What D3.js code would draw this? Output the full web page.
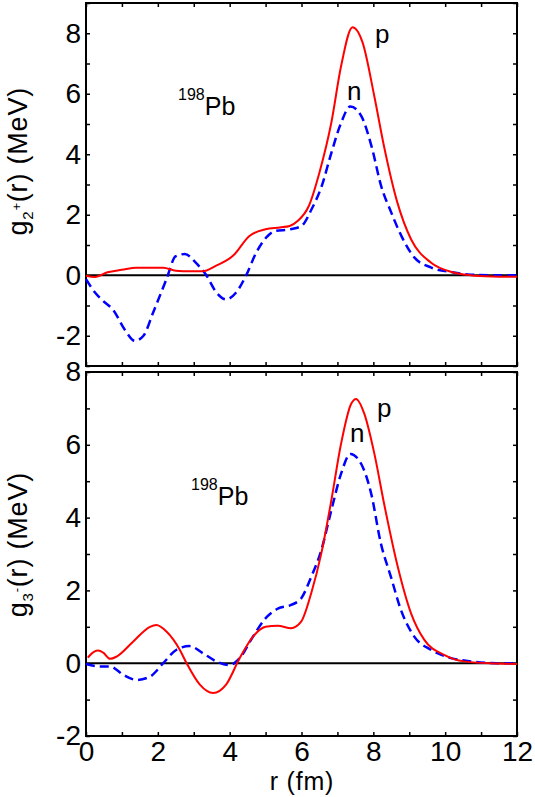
<!DOCTYPE html>
<html>
<head>
<meta charset="utf-8">
<script src="https://cdn.jsdelivr.net/npm/d3@7"></script>
<style>
  body { margin: 0; background: #fff; }
  text { font-family: "Liberation Sans", Arial, sans-serif; fill: #000; }
</style>
</head>
<body>
<script>
// g_2+ (top panel), proton = red solid, neutron = blue dashed
const rP2 = [0, 0.25, 0.6, 1.0, 1.4, 1.8, 2.15, 2.5, 2.9, 3.25, 3.6, 4.1, 4.55, 5.0, 5.4, 5.67, 5.9, 6.2, 6.5, 6.83, 7.1, 7.42, 7.7, 8.03, 8.3, 8.67, 9.05, 9.6, 10.2, 10.7, 11.3, 12];
const gP2 = [-0.02, -0.06, 0.1, 0.18, 0.25, 0.25, 0.25, 0.15, 0.13, 0.13, 0.3, 0.65, 1.3, 1.52, 1.58, 1.63, 1.8, 2.28, 3.4, 5.04, 6.9, 8.2, 7.7, 5.9, 4.25, 2.4, 1.19, 0.42, 0.1, 0.0, -0.04, -0.05];
const rN2 = [0, 0.25, 0.48, 0.76, 1.08, 1.36, 1.6, 1.87, 2.24, 2.5, 2.75, 3.07, 3.35, 3.63, 3.9, 4.18, 4.46, 4.74, 5.02, 5.25, 5.7, 6.0, 6.28, 6.56, 6.83, 7.1, 7.36, 7.67, 7.95, 8.22, 8.5, 8.78, 9.14, 9.6, 10.2, 10.7, 11.3, 12];
const gN2 = [-0.13, -0.57, -0.85, -1.15, -1.8, -2.17, -2.0, -1.23, -0.13, 0.63, 0.7, 0.4, 0.0, -0.57, -0.8, -0.57, 0.0, 0.75, 1.25, 1.46, 1.52, 1.63, 2.18, 2.94, 4.04, 5.03, 5.58, 5.25, 4.26, 2.94, 2.07, 1.3, 0.59, 0.26, 0.1, 0.02, 0.0, 0.0];

// g_3- (bottom panel)
const rP3 = [0.05, 0.11, 0.34, 0.48, 0.67, 0.85, 1.31, 1.78, 1.96, 2.24, 2.61, 2.8, 3.17, 3.54, 3.9, 4.28, 4.65, 5.0, 5.34, 5.71, 5.99, 6.27, 6.55, 6.83, 7.1, 7.38, 7.52, 7.75, 8.03, 8.3, 8.68, 9.05, 9.42, 9.97, 10.53, 11.45, 12];
const gP3 = [0.15, 0.22, 0.35, 0.29, 0.12, 0.18, 0.59, 1.0, 1.05, 0.87, 0.37, 0.0, -0.59, -0.82, -0.59, 0.14, 0.73, 1.0, 1.03, 0.96, 1.14, 1.92, 3.01, 4.47, 6.02, 7.12, 7.26, 6.85, 5.75, 4.38, 2.65, 1.37, 0.64, 0.23, 0.05, -0.01, -0.02];
const rN3 = [0, 0.39, 0.67, 1.04, 1.41, 1.78, 2.15, 2.52, 2.89, 3.26, 3.63, 4.0, 4.28, 4.65, 4.97, 5.34, 5.71, 5.99, 6.27, 6.55, 6.83, 7.1, 7.36, 7.66, 7.94, 8.21, 8.49, 8.77, 9.14, 9.6, 10.16, 10.71, 11.45, 12];
const gN3 = [-0.02, -0.09, -0.09, -0.32, -0.46, -0.37, 0.0, 0.37, 0.47, 0.27, 0.05, -0.05, 0.14, 0.73, 1.2, 1.5, 1.6, 1.78, 2.37, 3.1, 4.2, 5.2, 5.75, 5.48, 4.66, 3.29, 2.37, 1.46, 0.73, 0.37, 0.14, 0.05, 0.0, 0.0];

const xTicks = d3.range(0, 13, 1);
const xLabels = [0, 2, 4, 6, 8, 10, 12];
const yLabels = [-2, 0, 2, 4, 6, 8];

const W = 535, H = 797;
const svg = d3.select("body").append("svg").attr("width", W).attr("height", H);

const x = d3.scaleLinear().domain([0, 12]).range([86, 517]);

const panels = [
  {y0: 3, y1: 366, dom: [-3, 9], p: [rP2, gP2], n: [rN2, gN2], sub: "2", sup: "+",
   showX: false, tTop: 87, pb: [178, 115], pl: [375, 43], nl: [347, 100]},
  {y0: 372, y1: 736, dom: [-2, 8], p: [rP3, gP3], n: [rN3, gN3], sub: "3", sup: "-",
   showX: true, tTop: 472, pb: [191, 505], pl: [377, 417], nl: [350, 442]}
];

panels.forEach(pn => {
  const y = d3.scaleLinear().domain(pn.dom).range([pn.y1, pn.y0]);
  const g = svg.append("g");
  const yt = d3.range(pn.dom[0], pn.dom[1] + 1, 1);

  // left axis
  g.append("g").attr("transform", "translate(86,0)")
    .call(d3.axisLeft(y).tickValues(yt).tickSizeInner(-4).tickSizeOuter(0).tickPadding(5)
      .tickFormat(d => yLabels.includes(d) ? d : ""))
    .call(a => a.select(".domain").remove())
    .call(a => a.selectAll("text").attr("font-size", 28).attr("font-family", "Liberation Sans, Arial"));
  // right axis
  g.append("g").attr("transform", "translate(517,0)")
    .call(d3.axisRight(y).tickValues(yt).tickSizeInner(-4).tickSizeOuter(0).tickFormat(""))
    .call(a => a.select(".domain").remove());
  // top axis
  g.append("g").attr("transform", `translate(0,${pn.y0})`)
    .call(d3.axisTop(x).tickValues(xTicks).tickSizeInner(-4).tickSizeOuter(0).tickFormat(""))
    .call(a => a.select(".domain").remove());
  // bottom axis
  g.append("g").attr("transform", `translate(0,${pn.y1})`)
    .call(d3.axisBottom(x).tickValues(xTicks).tickSizeInner(-4).tickSizeOuter(0).tickPadding(5)
      .tickFormat(d => pn.showX && xLabels.includes(d) ? d : ""))
    .call(a => a.select(".domain").remove())
    .call(a => a.selectAll("text").attr("font-size", 28).attr("font-family", "Liberation Sans, Arial"));
  g.selectAll(".tick line").attr("stroke", "#000").attr("stroke-width", 1.5);

  // frame
  g.append("rect").attr("x", 86).attr("y", pn.y0).attr("width", 517 - 86).attr("height", pn.y1 - pn.y0)
    .attr("fill", "none").attr("stroke", "#000").attr("stroke-width", 2);

  // zero line
  g.append("line").attr("x1", 86).attr("x2", 517).attr("y1", y(0)).attr("y2", y(0))
    .attr("stroke", "#000").attr("stroke-width", 2);

  const line = d3.line().x(d => x(d[0])).y(d => y(d[1])).curve(d3.curveMonotoneX);

  g.append("path").datum(d3.zip(pn.n[0], pn.n[1])).attr("d", line)
    .attr("fill", "none").attr("stroke", "#0000ff").attr("stroke-width", 2.5)
    .attr("stroke-dasharray", "9,5");
  g.append("path").datum(d3.zip(pn.p[0], pn.p[1])).attr("d", line)
    .attr("fill", "none").attr("stroke", "#ff0000").attr("stroke-width", 2);

  // y title
  const t = g.append("text").attr("transform", `translate(27,${pn.tTop}) rotate(-90)`)
    .attr("text-anchor", "end").attr("font-size", 27).attr("letter-spacing", 0.8);
  t.append("tspan").text("g");
  t.append("tspan").attr("font-size", 15).attr("dy", 6).text(pn.sub);
  t.append("tspan").attr("font-size", 13).attr("dy", -12).text(pn.sup);
  t.append("tspan").attr("dy", 6).text("(r) (MeV)");

  // nucleus label
  const pb = g.append("text").attr("x", pn.pb[0]).attr("y", pn.pb[1]).attr("font-size", 25);
  pb.append("tspan").attr("font-size", 16).attr("dy", -15).text("198");
  pb.append("tspan").attr("dy", 15).text("Pb");

  g.append("text").attr("x", pn.pl[0]).attr("y", pn.pl[1]).attr("font-size", 26).text("p");
  g.append("text").attr("x", pn.nl[0]).attr("y", pn.nl[1]).attr("font-size", 26).text("n");
});

svg.append("text").attr("x", 302).attr("y", 790).attr("text-anchor", "middle")
  .attr("font-size", 25).attr("letter-spacing", 0.8).text("r (fm)");
</script>
</body>
</html>
